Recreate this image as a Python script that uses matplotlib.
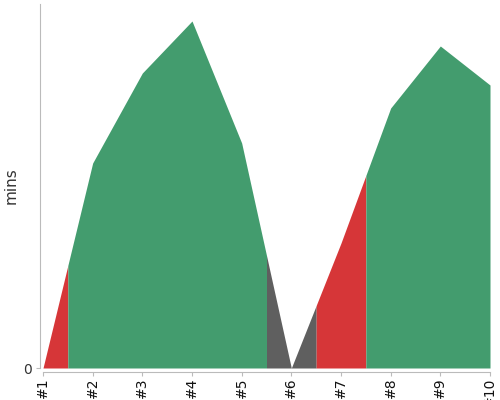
import numpy as np
import matplotlib.pyplot as plt

labels = ['#1', '#2', '#3', '#4', '#5', '#6', '#7', '#8', '#9', '#10']
mins = [0, 205, 295, 347, 225, 0, 125, 260, 322, 283]
status = ['red', 'green', 'green', 'green', 'green', 'gray', 'red', 'green', 'green', 'green']

palette = {'green': '#439c6e', 'red': '#d63638', 'gray': '#5f5f5f'}

x = np.arange(len(labels))
y = np.array(mins, dtype=float)
n = len(labels)

fig = plt.figure(figsize=(5, 4), dpi=100)
ax = fig.add_axes([43 / 500, 32 / 400, 447 / 500, 364 / 400])

# group neighbouring categories with the same status, each one
# colours the band half way to its neighbours
runs = []
start = 0
for i in range(1, n + 1):
    if i == n or status[i] != status[start]:
        runs.append((start, i - 1, status[start]))
        start = i

for a, b, s in runs:
    lo = max(a - 0.5, 0)
    hi = min(b + 0.5, n - 1)
    xs = np.array(sorted(set([lo, hi] + list(range(a, b + 1)))))
    ys = np.interp(xs, x, y)
    ax.fill_between(xs, 0, ys, color=palette[s], linewidth=0)

ax.set_xlim(0, n - 1)
ax.set_ylim(0, 364)
ax.set_xticks(x)
ax.set_xticklabels(labels, fontsize=6.5)
ax.set_yticks([0])
ax.set_yticklabels(['0'], fontsize=9)
ax.set_ylabel('mins', fontsize=11, color='#333333')
ax.yaxis.set_label_coords(-0.054, 0.5)

for side in ['top', 'right']:
    ax.spines[side].set_visible(False)
ax.spines['left'].set_position(('outward', 2.2))
ax.spines['bottom'].set_position(('outward', 2.9))
ax.spines['left'].set_color('#bbbbbb')
ax.spines['bottom'].set_color('#bbbbbb')
ax.tick_params(axis='x', colors='#bbbbbb', labelcolor='#111111', length=3, pad=1, labelrotation=90)
ax.tick_params(axis='y', colors='#bbbbbb', labelcolor='#333333', length=3, pad=3)

fig.savefig('out.png', dpi=100)
